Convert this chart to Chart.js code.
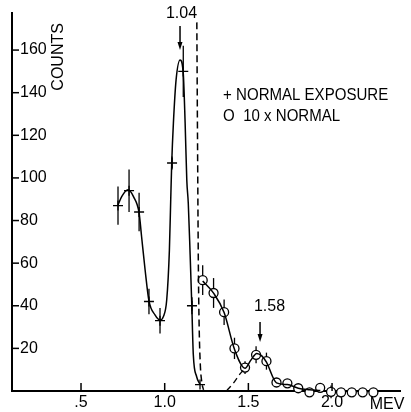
<!DOCTYPE html>
<html lang="en">
<head>
  <meta charset="UTF-8">
  <title>Counts vs MeV</title>
  <script src="https://cdn.jsdelivr.net/npm/chart.js"></script>
  <style>
    body { margin: 0; background: #fff; }
    canvas { display: block; }
  </style>
</head>
<body>
  <canvas id="spectrum" width="411" height="412"></canvas>
  <script>
    // normal exposure (+), energy in MeV
    const normalE = [0.721, 0.787, 0.847, 0.906, 0.972, 1.044, 1.111, 1.163, 1.211];
    const normalCounts = [87, 94, 84, 42, 33, 107, 150, 40, 3];
    const normalErr = [9, 10, 9, 6, 6, 3, 12, 4, 0];

    // 10 x normal (o)
    const tenxE = [1.227, 1.292, 1.355, 1.417, 1.480, 1.546, 1.608, 1.668, 1.733, 1.798, 1.865, 1.929, 1.994, 2.054, 2.118, 2.183, 2.247];
    const tenxCounts = [52, 46, 37, 20, 11, 17, 14, 4, 3.6, 1.3, -0.6, 1.5, -0.4, -0.6, -0.6, -0.6, -0.6];
    const tenxErr = [7, 7, 6, 5, 3, 4, 4, 0, 0, 0, 0, 2, 3, 0, 0, 0, 0];

    // hand-drawn curves
    const normalCurveE = [0.721, 0.743, 0.781, 0.815, 0.847, 0.862, 0.883, 0.906, 0.942, 0.972, 0.992, 1.012, 1.028, 1.036, 1.042, 1.052, 1.068, 1.092, 1.111, 1.122, 1.132, 1.141, 1.152, 1.162, 1.171, 1.191, 1.211];
    const normalCurveC = [87.3, 91.2, 94.4, 91, 83.6, 72.4, 56.8, 42.3, 35.7, 33.3, 34.9, 42.7, 66, 89.7, 107, 125.7, 146, 155.4, 149, 126, 99, 88, 64, 40, 17, 6.7, 3.1];
    const tenxCurveE = [1.227, 1.292, 1.355, 1.417, 1.480, 1.515, 1.550, 1.580, 1.608, 1.668, 1.733, 1.798, 1.865, 1.930];
    const tenxCurveC = [51.6, 45.9, 36.8, 19.6, 10.7, 14.5, 17.6, 16.5, 13.5, 3.8, 3.0, 1.3, 0.6, 0.2];
    const dashAE = [1.192, 1.196, 1.201, 1.206, 1.213, 1.222, 1.232];
    const dashAC = [173, 120, 60, 30, 12, 4, 0.5];
    const dashBE = [1.371, 1.409, 1.450, 1.480];
    const dashBC = [0.2, 3.5, 8, 10.7];

    const yTicks = [20, 40, 60, 80, 100, 120, 140, 160];
    const xTicks = [0.5, 1.0, 1.5, 2.0];
    const xTickLabels = ['.5', '1.0', '1.5', '2.0'];
    const legendLines = ['+ NORMAL EXPOSURE', 'O  10 x NORMAL'];

    const pts = (es, cs) => es.map((e, i) => ({ x: e, y: cs[i] }));
    const FONT = '16px "Liberation Sans", Arial, sans-serif';

    const annotate = {
      id: 'annotate',
      beforeDatasetsDraw(chart) {
        const { ctx, scales: { x, y } } = chart;
        ctx.save();
        ctx.strokeStyle = '#000';
        ctx.lineWidth = 1.3;
        const bars = (es, cs, errs) => es.forEach((e, i) => {
          if (!errs[i]) return;
          const px = x.getPixelForValue(e);
          ctx.beginPath();
          ctx.moveTo(px, y.getPixelForValue(cs[i] - errs[i]));
          ctx.lineTo(px, y.getPixelForValue(cs[i] + errs[i]));
          ctx.stroke();
        });
        bars(normalE, normalCounts, normalErr);
        bars(tenxE, tenxCounts, tenxErr);
        ctx.restore();
      },
      afterDraw(chart) {
        const { ctx, chartArea: area, scales: { x, y } } = chart;
        ctx.save();
        ctx.strokeStyle = '#000';
        ctx.fillStyle = '#000';
        ctx.lineWidth = 1.5;

        // inward tick marks
        yTicks.forEach(v => {
          const py = y.getPixelForValue(v);
          ctx.beginPath();
          ctx.moveTo(area.left, py);
          ctx.lineTo(area.left + 7, py);
          ctx.stroke();
        });
        xTicks.forEach(v => {
          const px = x.getPixelForValue(v);
          ctx.beginPath();
          ctx.moveTo(px, area.bottom);
          ctx.lineTo(px, area.bottom - 8);
          ctx.stroke();
        });

        ctx.font = FONT;
        ctx.textBaseline = 'middle';

        // axis names
        ctx.textAlign = 'center';
        ctx.fillText('MEV', x.getPixelForValue(2.329), y.getPixelForValue(-6.6));
        ctx.save();
        ctx.translate(x.getPixelForValue(0.366), y.getPixelForValue(156.8));
        ctx.rotate(-Math.PI / 2);
        ctx.fillText('COUNTS', 0, 0);
        ctx.restore();

        // legend, slightly condensed like the lettering
        ctx.textAlign = 'left';
        legendLines.forEach((txt, i) => {
          ctx.save();
          ctx.translate(x.getPixelForValue(1.349), y.getPixelForValue(i ? 129.0 : 138.7));
          ctx.scale(0.94, 1.05);
          ctx.fillText(txt, 0, 0);
          ctx.restore();
        });

        // peak markers
        const arrow = (e, c0, c1) => {
          const px = x.getPixelForValue(e);
          const y0 = y.getPixelForValue(c0);
          const y1 = y.getPixelForValue(c1);
          ctx.beginPath();
          ctx.moveTo(px, y0);
          ctx.lineTo(px, y1 - 6);
          ctx.stroke();
          ctx.beginPath();
          ctx.moveTo(px - 2.5, y1 - 8);
          ctx.lineTo(px + 2.5, y1 - 8);
          ctx.lineTo(px, y1);
          ctx.closePath();
          ctx.fill();
        };
        ctx.textAlign = 'center';
        ctx.fillText('1.04', x.getPixelForValue(1.1006), y.getPixelForValue(177.1));
        arrow(1.0916, 171.3, 160.0);
        ctx.fillText('1.58', x.getPixelForValue(1.6265), y.getPixelForValue(39.4));
        arrow(1.5697, 32.4, 23.0);
        ctx.restore();
      }
    };

    Chart.defaults.font.family = '"Liberation Sans", Arial, sans-serif';
    Chart.defaults.font.size = 16;
    Chart.defaults.color = '#000';

    new Chart(document.getElementById('spectrum'), {
      type: 'scatter',
      data: {
        datasets: [
          {
            data: pts(normalCurveE, normalCurveC), showLine: true, pointRadius: 0,
            borderColor: '#000', borderWidth: 1.5, cubicInterpolationMode: 'monotone', clip: false
          },
          {
            data: pts(tenxCurveE, tenxCurveC), showLine: true, pointRadius: 0,
            borderColor: '#000', borderWidth: 1.5, cubicInterpolationMode: 'monotone', clip: false
          },
          {
            data: pts(dashAE, dashAC), showLine: true, pointRadius: 0, borderDash: [7, 4],
            borderColor: '#000', borderWidth: 1.5, cubicInterpolationMode: 'monotone', clip: false
          },
          {
            data: pts(dashBE, dashBC), showLine: true, pointRadius: 0, borderDash: [6, 4],
            borderColor: '#000', borderWidth: 1.3, cubicInterpolationMode: 'monotone', clip: false
          },
          {
            data: pts(normalE, normalCounts), pointStyle: 'cross', pointRadius: 5,
            borderColor: '#000', borderWidth: 1.3, clip: false
          },
          {
            data: pts(tenxE, tenxCounts), pointStyle: 'circle', pointRadius: 4.5,
            backgroundColor: '#fff', borderColor: '#000', borderWidth: 1.3, clip: false
          }
        ]
      },
      options: {
        responsive: false,
        animation: false,
        devicePixelRatio: 1,
        layout: { padding: { left: 4, right: 11, top: 13, bottom: 0 } },
        plugins: { legend: { display: false }, tooltip: { enabled: false } },
        scales: {
          x: {
            type: 'linear', min: 0.0876, max: 2.406,
            afterBuildTicks: s => { s.ticks = xTicks.map(v => ({ value: v })); },
            afterFit: s => { s.paddingLeft = 0; s.paddingRight = 0; s.height = 21; },
            ticks: { padding: 2, maxRotation: 0, callback: v => xTickLabels[xTicks.indexOf(v)] },
            grid: { display: false, drawTicks: false },
            border: { display: true, color: '#000', width: 2 }
          },
          y: {
            type: 'linear', min: 0, max: 177.4,
            afterBuildTicks: s => { s.ticks = yTicks.map(v => ({ value: v })); },
            afterFit: s => { s.paddingTop = 0; s.paddingBottom = 0; s.width = 8; },
            ticks: { mirror: true, padding: 8 },
            grid: { display: false, drawTicks: false },
            border: { display: true, color: '#000', width: 2 }
          }
        }
      },
      plugins: [annotate]
    });
  </script>
</body>
</html>
